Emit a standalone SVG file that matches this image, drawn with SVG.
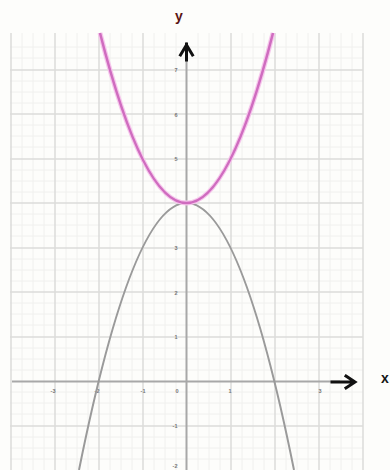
<svg xmlns="http://www.w3.org/2000/svg" width="390" height="470" viewBox="0 0 390 470">
<defs>
<style>
.minor{stroke:#f0f0ee;stroke-width:1}
.major{stroke:#dcdcda;stroke-width:1.5}
.axis{stroke:#a8a8a8;stroke-width:2;fill:none}
.tick{font-family:"Liberation Sans",Arial,sans-serif;font-size:5.5px;font-weight:bold;fill:#777}
.arr{stroke:#111;stroke-width:3;fill:none;stroke-linecap:square}
</style>
</defs>
<rect width="390" height="470" fill="#fdfdfb"/>
<g id="grid">
<path class="minor" d="M22,33V470M33,33V470M44,33V470M66,33V470M77,33V470M88,33V470M110,33V470M121,33V470M132,33V470M154,33V470M165,33V470M176,33V470M198,33V470M209,33V470M220,33V470M242,33V470M253,33V470M264,33V470M286,33V470M297,33V470M308,33V470M330,33V470M341,33V470M352,33V470"/>
<path class="minor" d="M10,47H363M10,58H363M10,81H363M10,92H363M10,103H363M10,125H363M10,136H363M10,147H363M10,170H363M10,181H363M10,192H363M10,214H363M10,225H363M10,236H363M10,259H363M10,270H363M10,281H363M10,303H363M10,314H363M10,325H363M10,348H363M10,359H363M10,370H363M10,392H363M10,403H363M10,414H363M10,437H363M10,448H363M10,459H363"/>
<path class="major" d="M11,33V470M55,33V470M99,33V470M143,33V470M231,33V470M275,33V470M319,33V470M363,33V470"/>
<path class="major" d="M10,70H363M10,114H363M10,159H363M10,203H363M10,248H363M10,292H363M10,337H363M10,426H363"/>
</g>
<g id="ticks">
<text class="tick" x="53" y="393" text-anchor="middle">-3</text>
<text class="tick" x="97" y="393" text-anchor="middle">-2</text>
<text class="tick" x="143" y="393" text-anchor="middle">-1</text>
<text class="tick" x="177" y="393" text-anchor="middle">0</text>
<text class="tick" x="230" y="393" text-anchor="middle">1</text>
<text class="tick" x="320" y="393" text-anchor="middle">3</text>
<text class="tick" x="176" y="72" text-anchor="middle">7</text>
<text class="tick" x="176" y="117" text-anchor="middle">6</text>
<text class="tick" x="176" y="161" text-anchor="middle">5</text>
<text class="tick" x="176" y="250" text-anchor="middle">3</text>
<text class="tick" x="176" y="295" text-anchor="middle">2</text>
<text class="tick" x="176" y="339" text-anchor="middle">1</text>
<text class="tick" x="175" y="428" text-anchor="middle">-1</text>
<text class="tick" x="175" y="468" text-anchor="middle">-2</text>
</g>
<g id="axes">
<path class="axis" d="M186.5,470V50"/>
<path class="axis" d="M12,381.5H340"/>
<path class="arr" d="M186.5,60V44M180.5,55L186.5,45L192.5,55"/>
<path class="arr" d="M332,382H354M346,376L355,382L346,388"/>
<text x="175" y="21" font-family="Liberation Sans, Arial, sans-serif" font-size="14" font-weight="bold" fill="#5a1414">y</text>
<text x="381" y="383" font-family="Liberation Sans, Arial, sans-serif" font-size="14" font-weight="bold" fill="#151515">x</text>
</g>
<g id="curves">
<path d="M79,470Q186.5,-64 294,470" fill="none" stroke="#9a9a9a" stroke-width="2"/>
<path d="M100,33Q186.5,373 273,33" fill="none" stroke="#f6c6ec" stroke-width="5"/>
<path d="M100,33Q186.5,373 273,33" fill="none" stroke="#cf6cbf" stroke-width="2.5"/>
</g>
</svg>
